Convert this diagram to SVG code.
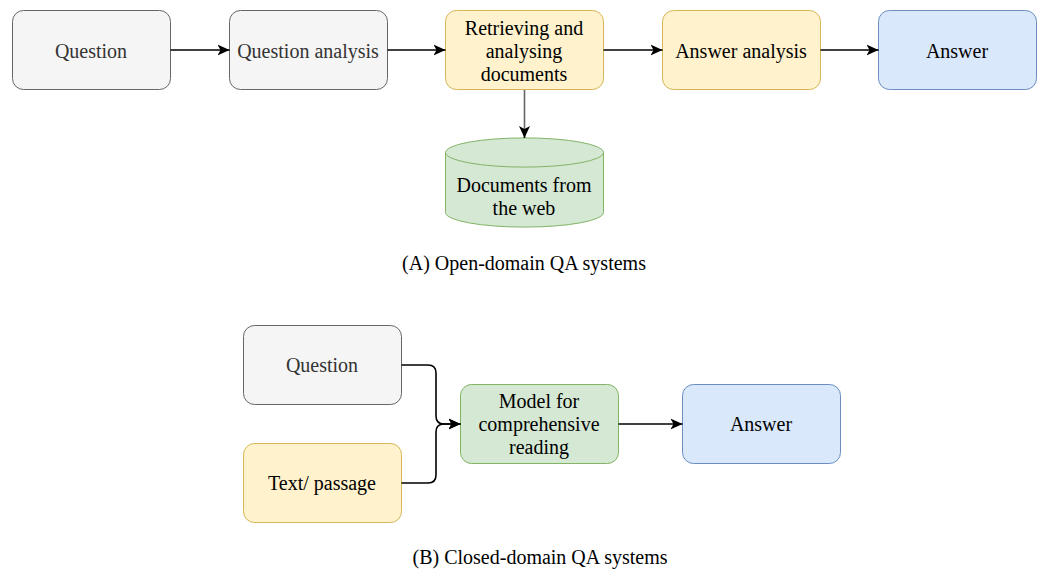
<svg xmlns="http://www.w3.org/2000/svg" width="1042" height="573" viewBox="0 0 1042 573">
  <style>
    text { font-family: "Liberation Serif", "Times New Roman", serif; font-size: 20px; text-anchor: middle; fill: #000; }
    .gray rect { fill: #f5f5f5; stroke: #666666; }
    .gray text { fill: #333333; }
    .yellow rect { fill: #fff2cc; stroke: #d6b656; }
    .blue rect { fill: #dae8fc; stroke: #6c8ebf; }
    .green rect { fill: #d5e8d4; stroke: #82b366; }
    .edge { fill: none; stroke: #000; stroke-width: 1.6; }
    .thin { fill: none; stroke: #666; stroke-width: 1.6; }
  </style>
  <defs>
    <marker id="arrow" viewBox="0 0 12 12" refX="12" refY="6" markerWidth="12" markerHeight="12" markerUnits="userSpaceOnUse" orient="auto">
      <path d="M0,0.5 L12,6 L0,11.5 L3,6 Z" fill="#000"/>
    </marker>
  </defs>

  <!-- (A) open-domain pipeline -->
  <g id="a-question" class="gray">
    <rect x="12.5" y="10.5" width="158" height="79" rx="11"/>
    <text x="91" y="57.5">Question</text>
  </g>
  <g id="a-question-analysis" class="gray">
    <rect x="229.5" y="10.5" width="158" height="79" rx="11"/>
    <text x="308" y="57.5">Question analysis</text>
  </g>
  <g id="a-retrieving" class="yellow">
    <rect x="445.5" y="10.5" width="158" height="79" rx="11"/>
    <text x="524" y="34.5">Retrieving and</text>
    <text x="524" y="57.5">analysing</text>
    <text x="524" y="80.5">documents</text>
  </g>
  <g id="a-answer-analysis" class="yellow">
    <rect x="662.5" y="10.5" width="158" height="79" rx="11"/>
    <text x="741" y="57.5">Answer analysis</text>
  </g>
  <g id="a-answer" class="blue">
    <rect x="878.5" y="10.5" width="158" height="79" rx="11"/>
    <text x="957" y="57.5">Answer</text>
  </g>
  <g id="a-documents">
    <path d="M445.5,152.5 L445.5,212.5 A78.5,14.5 0 0 0 603.5,212.5 L603.5,152.5 A78.5,14.5 0 0 0 445.5,152.5 Z" fill="#d5e8d4" stroke="#82b366"/>
    <path d="M445.5,152.5 A78.5,14.5 0 0 0 603.5,152.5" fill="none" stroke="#82b366"/>
    <text x="524" y="192">Documents from</text>
    <text x="524" y="215">the web</text>
  </g>
  <text id="caption-a" x="524" y="270">(A) Open-domain QA systems</text>

  <!-- (B) closed-domain pipeline -->
  <g id="b-question" class="gray">
    <rect x="243.5" y="325.5" width="158" height="79" rx="11"/>
    <text x="322" y="372">Question</text>
  </g>
  <g id="b-text" class="yellow">
    <rect x="243.5" y="443.5" width="158" height="79" rx="11"/>
    <text x="322" y="490">Text/ passage</text>
  </g>
  <g id="b-model" class="green">
    <rect x="460.5" y="384.5" width="158" height="79" rx="11"/>
    <text x="539" y="407.5">Model for</text>
    <text x="539" y="430.5">comprehensive</text>
    <text x="539" y="453.5">reading</text>
  </g>
  <g id="b-answer" class="blue">
    <rect x="682.5" y="384.5" width="158" height="79" rx="11"/>
    <text x="761" y="431">Answer</text>
  </g>
  <text id="caption-b" x="540" y="564">(B) Closed-domain QA systems</text>

  <g id="connectors">
    <path class="edge" d="M170.5,50 L229.5,50" marker-end="url(#arrow)"/>
    <path class="edge" d="M387.5,50 L445.5,50" marker-end="url(#arrow)"/>
    <path class="edge" d="M603.5,50 L662.5,50" marker-end="url(#arrow)"/>
    <path class="edge" d="M820.5,50 L878.5,50" marker-end="url(#arrow)"/>
    <path class="thin" d="M524.5,90 L524.5,132"/>
    <path class="edge" d="M524.5,130 L524.5,138" stroke-width="1" marker-end="url(#arrow)"/>
    <path class="edge" d="M401.5,365 L428,365 Q436,365 436,373 L436,416 Q436,424 444,424 L460.5,424" marker-end="url(#arrow)"/>
    <path class="edge" d="M401.5,483 L428,483 Q436,483 436,475 L436,432 Q436,424 444,424 L460.5,424" marker-end="url(#arrow)"/>
    <path class="edge" d="M618.5,424 L682.5,424" marker-end="url(#arrow)"/>
  </g>
</svg>
